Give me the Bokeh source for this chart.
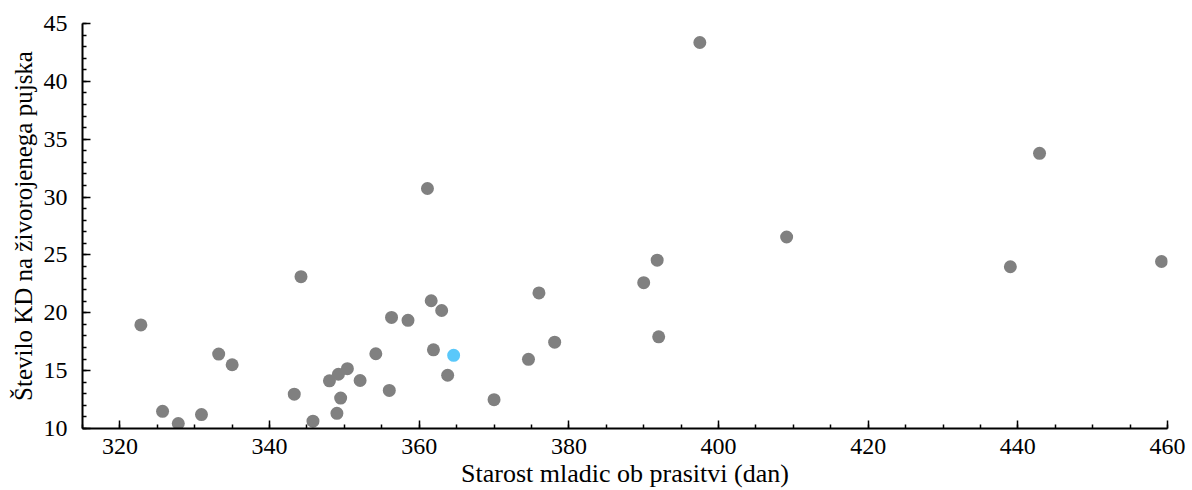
from bokeh.plotting import figure
from bokeh.models import Range1d, SingleIntervalTicker
from bokeh.embed import file_html
from bokeh.resources import INLINE

# Data
age_gray = [322.8, 325.7, 327.8, 330.9, 333.2, 335.0, 343.3, 344.2, 345.8, 348.0,
            349.2, 349.0, 349.5, 350.4, 352.1, 354.2, 356.0, 356.3, 358.5, 361.1,
            361.6, 361.9, 363.0, 363.8, 370.0, 374.6, 376.0, 378.1, 390.0, 391.8,
            392.0, 397.5, 409.1, 439.0, 442.9, 459.2]
kd_gray = [18.95, 11.48, 10.43, 11.2, 16.43, 15.51, 12.97, 23.12, 10.63, 14.12,
           14.69, 11.31, 12.63, 15.17, 14.15, 16.46, 13.29, 19.6, 19.35, 30.74,
           21.04, 16.8, 20.2, 14.6, 12.49, 15.98, 21.72, 17.46, 22.6, 24.55,
           17.92, 43.36, 26.55, 23.98, 33.78, 24.43]
age_blue = [364.6]
kd_blue = [16.32]

x_label = "Starost mladic ob prasitvi (dan)"
y_label = "Število KD na živorojenega pujska"

font = "Liberation Serif"

W, H = 1190, 490
p = figure(width=W, height=H, output_backend="svg", toolbar_location=None,
           x_range=Range1d(315, 460), y_range=Range1d(10, 45),
           min_border_left=82, min_border_right=W - 1167,
           min_border_top=23, min_border_bottom=H - 431)

p.scatter(age_gray, kd_gray, size=13, color="#808080", line_color=None)
p.scatter(age_blue, kd_blue, size=13, color="#5AC8FA", line_color=None)

p.xgrid.visible = False
p.ygrid.visible = False
p.outline_line_color = None

p.xaxis.ticker = SingleIntervalTicker(interval=20, num_minor_ticks=4)
p.yaxis.ticker = SingleIntervalTicker(interval=5, num_minor_ticks=5)

p.axis.axis_line_color = "black"
p.axis.axis_line_width = 2
p.axis.major_tick_in = 8
p.axis.major_tick_out = 0
p.axis.minor_tick_in = 4
p.axis.minor_tick_out = 0
p.axis.major_tick_line_width = 1.5
p.axis.minor_tick_line_width = 1.5
p.axis.major_tick_line_color = "black"
p.axis.minor_tick_line_color = "black"
p.axis.major_label_text_font = font
p.axis.major_label_text_font_size = "24px"
p.axis.major_label_text_color = "black"
p.axis.axis_label_text_font = font
p.axis.axis_label_text_font_style = "normal"
p.axis.axis_label_text_color = "black"
p.xaxis.axis_label_text_font_size = "26px"
p.yaxis.axis_label_text_font_size = "25px"

p.xaxis.axis_label = x_label
p.yaxis.axis_label = y_label
p.xaxis.major_label_standoff = 10
p.yaxis.major_label_standoff = 15
p.xaxis.axis_label_standoff = 2
p.yaxis.axis_label_standoff = 4

open("out.html", "w").write(file_html(p, INLINE))
